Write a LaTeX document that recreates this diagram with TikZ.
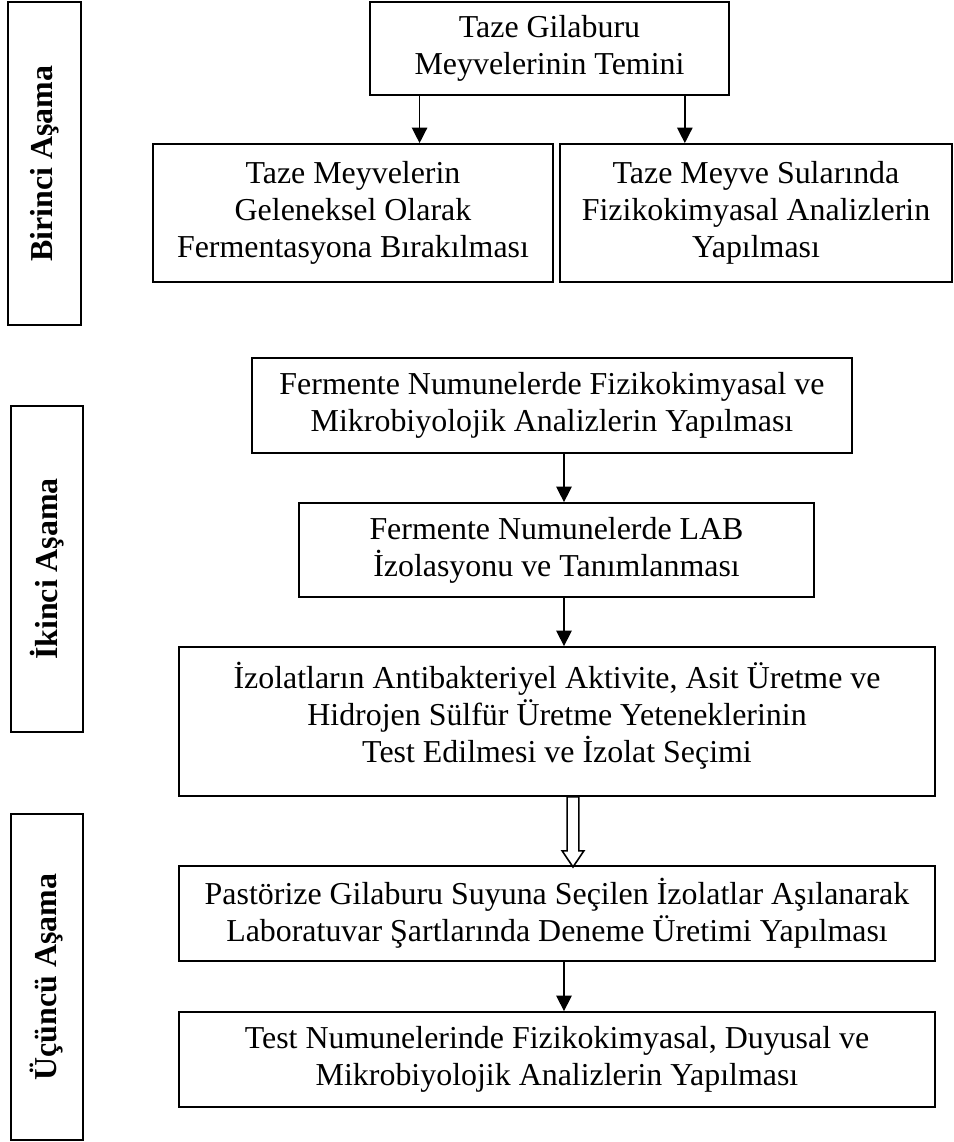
\documentclass[tikz,border=0pt]{standalone}
\usepackage{fontspec}
\setmainfont{Liberation Serif}
\usetikzlibrary{arrows.meta,shapes.arrows,calc}

\begin{document}
\begin{tikzpicture}[x=0.376pt,y=-0.376pt, every node/.style={font=\fontsize{12}{14}\selectfont}, stepbox/.style={draw,line width=0.7pt,align=center,inner sep=2pt}, stagebox/.style={draw,line width=0.7pt,rotate=90,font=\fontsize{12}{14}\selectfont\bfseries,minimum height=27.1pt}, arr/.style={-{Triangle[length=5.8pt,width=5.8pt]},line width=0.5pt}, hollowarr/.style={draw,line width=0.6pt,single arrow,shape border rotate=270,inner sep=1.9pt,minimum height=26.4pt,single arrow head extend=1.9pt,single arrow tip angle=68}]
\useasboundingbox (0,0) rectangle (954,1142);
% stages
\node[stagebox,minimum width=121.4pt,minimum height=27.4pt] (birinci) at (44.5,163.5) {Birinci Aşama};
\node[stagebox,minimum width=122.6pt] (ikinci) at (47,569) {İkinci Aşama};
\node[stagebox,minimum width=122.6pt] (ucuncu) at (47,977) {Üçüncü Aşama};
% first stage
\node[stepbox,minimum width=135pt,minimum height=35pt] (taze) at (549.5,48.5) {Taze Gilaburu\\Meyvelerinin Temini};
\node[stepbox,minimum width=150.4pt,minimum height=51.9pt] (gelenek) at (353,213) {Taze Meyvelerin\\Geleneksel Olarak\\Fermentasyona Bırakılması};
\node[stepbox,minimum width=147.4pt,minimum height=51.9pt] (sular) at (756,213) {Taze Meyve Sularında\\Fizikokimyasal Analizlerin\\Yapılması};
\coordinate (a1) at ($(taze.south west)!0.14!(taze.south east)$);
\coordinate (a2) at ($(taze.south west)!0.875!(taze.south east)$);
\draw[arr] (a1) -- (a1 |- gelenek.north);
\draw[arr] (a2) -- (a2 |- sular.north);
% second stage
\node[stepbox,minimum width=225.6pt,minimum height=35.7pt] (ferm) at (552,405.5) {Fermente Numunelerde Fizikokimyasal ve\\Mikrobiyolojik Analizlerin Yapılması};
\node[stepbox,minimum width=193.6pt,minimum height=35.3pt] (lab) at (556.5,550) {Fermente Numunelerde LAB\\İzolasyonu ve Tanımlanması};
\node[stepbox,minimum width=284.3pt,minimum height=56pt] (isol) at (557,721.5) {İzolatların Antibakteriyel Aktivite, Asit Üretme ve\\Hidrojen Sülfür Üretme Yeteneklerinin\\Test Edilmesi ve İzolat Seçimi\\[-7pt]\mbox{}};
% third stage
\node[stepbox,minimum width=284.3pt,minimum height=35.7pt] (past) at (557,913.5) {Pastörize Gilaburu Suyuna Seçilen İzolatlar Aşılanarak\\Laboratuvar Şartlarında Deneme Üretimi Yapılması};
\node[stepbox,minimum width=284.3pt,minimum height=35.7pt] (test) at (557,1059.5) {Test Numunelerinde Fizikokimyasal, Duyusal ve\\Mikrobiyolojik Analizlerin Yapılması};
\coordinate (ax) at (564,0);
\coordinate (hx) at (573,0);
\draw[arr] (ferm.south -| ax) -- (lab.north -| ax);
\draw[arr] (lab.south -| ax) -- (isol.north -| ax);
\node[hollowarr,yshift=1.3pt] (harr) at ($(isol.south -| hx)!0.5!(past.north -| hx)$) {};
\draw[arr] (past.south -| ax) -- (test.north -| ax);
\end{tikzpicture}
\end{document}
